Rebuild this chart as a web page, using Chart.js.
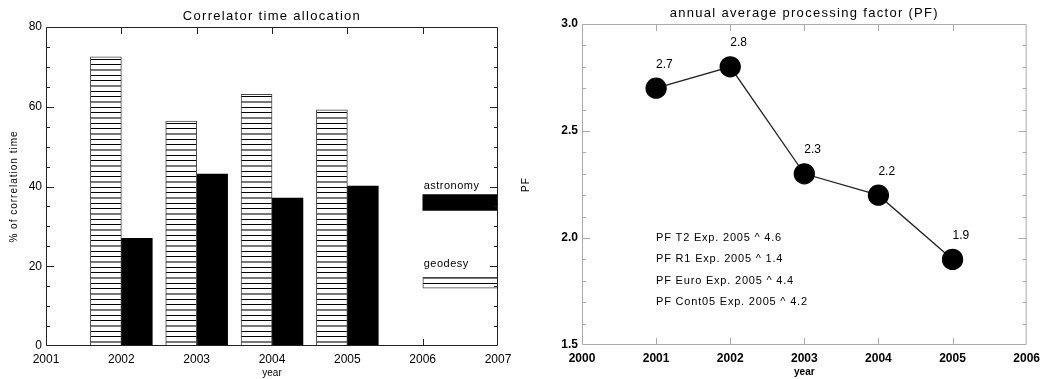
<!DOCTYPE html>
<html>
<head>
<meta charset="utf-8">
<script src="https://cdn.jsdelivr.net/npm/chart.js@4"></script>
<style>
  html, body { margin: 0; padding: 0; background: #fff; }
  #c1 { position: absolute; left: 0; top: 0; }
  #c2 { position: absolute; left: 520px; top: 0; }
</style>
</head>
<body>
<canvas id="c1" width="520" height="379"></canvas>
<canvas id="c2" width="526" height="379"></canvas>
<script>
// left panel: correlator time allocation (%)
const allocYears = [2002, 2003, 2004, 2005];
const geodesy = [72.5, 56.4, 63.1, 59.2];
const astronomy = [27.0, 43.1, 37.1, 40.1];
const allocLegend = ['astronomy', 'geodesy'];
const astronomyKey = [34, 38];
const geodesyKey = [14.5, 17.2];

// right panel: annual average processing factor
const pfYears = [2001, 2002, 2003, 2004, 2005];
const pf = [2.7, 2.8, 2.3, 2.2, 1.9];
const pfNotes = [
  'PF T2 Exp. 2005 ^ 4.6',
  'PF R1 Exp. 2005 ^ 1.4',
  'PF Euro Exp. 2005 ^ 4.4',
  'PF Cont05 Exp. 2005 ^ 4.2'
];

const FONT = '"Liberation Sans", Arial, sans-serif';

const hatch = (() => {
  const c = document.createElement('canvas');
  c.width = 8;
  c.height = 16;
  const g = c.getContext('2d');
  g.fillStyle = '#fff';
  g.fillRect(0, 0, 8, 16);
  g.fillStyle = '#000';
  g.fillRect(0, 0, 8, 1);
  g.fillStyle = '#777';
  g.fillRect(0, 5, 8, 2);
  g.fillStyle = '#000';
  g.fillRect(0, 11, 8, 1);
  return g.createPattern(c, 'repeat');
})();

// box round the plot with inward ticks on all four sides
const framePlugin = (color, xStep, yMinor, yMajor) => ({
  id: 'frame',
  afterDatasetsDraw(chart) {
    const { ctx, chartArea: a, scales: { x, y } } = chart;
    ctx.save();
    ctx.strokeStyle = color;
    ctx.lineWidth = 1;
    ctx.beginPath();
    ctx.rect(a.left + 0.5, a.top + 0.5, a.right - a.left - 1, a.bottom - a.top - 1);

    const nx = Math.round((x.max - x.min) / xStep);
    for (let i = 1; i < nx; i++) {
      const px = Math.round(x.getPixelForValue(x.min + i * xStep)) + 0.5;
      ctx.moveTo(px, a.top);
      ctx.lineTo(px, a.top + 7);
      ctx.moveTo(px, a.bottom);
      ctx.lineTo(px, a.bottom - 7);
    }

    const ny = Math.round((y.max - y.min) / yMinor);
    const every = Math.round(yMajor / yMinor);
    for (let i = 1; i < ny; i++) {
      const py = Math.round(y.getPixelForValue(y.min + i * yMinor)) + 0.5;
      const len = i % every === 0 ? 8 : 4;
      ctx.moveTo(a.left, py);
      ctx.lineTo(a.left + len, py);
      ctx.moveTo(a.right, py);
      ctx.lineTo(a.right - len, py);
    }
    ctx.stroke();
    ctx.restore();
  }
});

const titlesPlugin = (title, yTitle, xTitle, bold, yTitleX) => ({
  id: 'titles',
  afterDraw(chart) {
    const { ctx, chartArea: a } = chart;
    const cx = (a.left + a.right) / 2;
    ctx.save();
    ctx.fillStyle = '#000';
    ctx.textAlign = 'center';
    ctx.textBaseline = 'middle';
    ctx.font = `13px ${FONT}`;
    ctx.letterSpacing = '1.3px';
    ctx.fillText(title, cx, a.top - 11);
    ctx.letterSpacing = '0px';
    ctx.font = `${bold ? 'bold ' : ''}10px ${FONT}`;
    ctx.fillText(xTitle, cx, a.bottom + 27);
    ctx.translate(yTitleX, (a.top + a.bottom) / 2);
    ctx.rotate(-Math.PI / 2);
    ctx.font = `10px ${FONT}`;
    ctx.letterSpacing = '1px';
    ctx.fillText(yTitle, 0, 0);
    ctx.restore();
  }
});

const allocLegendPlugin = {
  id: 'allocLegend',
  afterDatasetsDraw(chart) {
    const { ctx, scales: { x, y } } = chart;
    ctx.save();
    ctx.fillStyle = '#000';
    ctx.font = `11px ${FONT}`;
    ctx.letterSpacing = '0.5px';
    ctx.textBaseline = 'middle';
    ctx.textAlign = 'left';
    ctx.fillText(allocLegend[0], x.getPixelForValue(2006) + 1, y.getPixelForValue(astronomyKey[1]) - 9);
    ctx.fillText(allocLegend[1], x.getPixelForValue(2006) + 1, y.getPixelForValue(geodesyKey[1]) - 13);
    ctx.restore();
  }
};

const pfTextPlugin = {
  id: 'pfText',
  afterDatasetsDraw(chart) {
    const { ctx, scales: { x, y } } = chart;
    ctx.save();
    ctx.fillStyle = '#000';
    ctx.textBaseline = 'middle';
    ctx.textAlign = 'left';
    ctx.font = `12px ${FONT}`;
    pf.forEach((v, i) => {
      ctx.fillText(v.toFixed(1), x.getPixelForValue(pfYears[i]), y.getPixelForValue(v) - 24);
    });
    ctx.font = `11px ${FONT}`;
    ctx.letterSpacing = '0.8px';
    pfNotes.forEach((t, i) => {
      ctx.fillText(t, x.getPixelForValue(2001), y.getPixelForValue(2.0 - i * 0.1));
    });
    ctx.restore();
  }
};

const tickFont = (bold) => ({ family: FONT, size: 12, weight: bold ? 'bold' : 'normal' });

const axis = (min, max, step, fmt, bold, size, isX) => ({
  type: 'linear',
  min,
  max,
  offset: false,
  grid: { display: false, drawTicks: false },
  border: { display: false },
  ticks: {
    stepSize: step,
    autoSkip: false,
    maxRotation: 0,
    padding: isX ? 6 : 4,
    color: '#000',
    font: tickFont(bold),
    callback: fmt
  },
  afterFit: (s) => {
    if (isX) s.height = size;
    else s.width = size;
  }
});

const halfBar = 0.205;

new Chart(document.getElementById('c1'), {
  type: 'bar',
  data: {
    datasets: [
      {
        data: allocYears.map((yr, i) => ({ x: yr - halfBar, y: geodesy[i] })),
        backgroundColor: hatch,
        borderColor: '#444',
        borderWidth: { top: 1, left: 1, right: 1, bottom: 0 },
        borderSkipped: 'start',
        barThickness: 31,
        grouped: false
      },
      {
        data: allocYears.map((yr, i) => ({ x: yr + halfBar, y: astronomy[i] })),
        backgroundColor: '#000',
        borderWidth: 0,
        barThickness: 31,
        grouped: false
      },
      {
        data: [{ x: 2006.5, y: astronomyKey }],
        backgroundColor: '#000',
        borderWidth: 0,
        barThickness: 75,
        grouped: false
      },
      {
        data: [{ x: 2006.5, y: geodesyKey }],
        backgroundColor: hatch,
        borderColor: '#444',
        borderWidth: 1,
        borderSkipped: false,
        barThickness: 75,
        grouped: false
      }
    ]
  },
  options: {
    responsive: false,
    animation: false,
    layout: { padding: { top: 27, right: 22, left: 0, bottom: 0 } },
    plugins: { legend: { display: false }, tooltip: { enabled: false } },
    scales: {
      x: axis(2001, 2007, 1, (v) => String(v), false, 33, true),
      y: axis(0, 80, 20, (v) => String(v), false, 46, false)
    }
  },
  plugins: [
    framePlugin('#222', 1, 5, 20),
    titlesPlugin('Correlator time allocation', '% of correlation time', 'year', false, 14),
    allocLegendPlugin
  ]
});

new Chart(document.getElementById('c2'), {
  type: 'line',
  data: {
    datasets: [
      {
        data: pfYears.map((yr, i) => ({ x: yr, y: pf[i] })),
        borderColor: '#222',
        borderWidth: 1.3,
        pointRadius: 10,
        pointBackgroundColor: '#000',
        pointBorderColor: '#000',
        tension: 0
      }
    ]
  },
  options: {
    responsive: false,
    animation: false,
    layout: { padding: { top: 24, right: 17, left: 0, bottom: 0 } },
    plugins: { legend: { display: false }, tooltip: { enabled: false } },
    scales: {
      x: axis(2000, 2006, 1, (v) => String(v), true, 34, true),
      y: axis(1.5, 3.0, 0.5, (v) => v.toFixed(1), true, 62, false)
    }
  },
  plugins: [
    framePlugin('#aaa', 1, 0.1, 0.5),
    titlesPlugin('annual average processing factor (PF)', 'PF', 'year', true, 6),
    pfTextPlugin
  ]
});
</script>
</body>
</html>
